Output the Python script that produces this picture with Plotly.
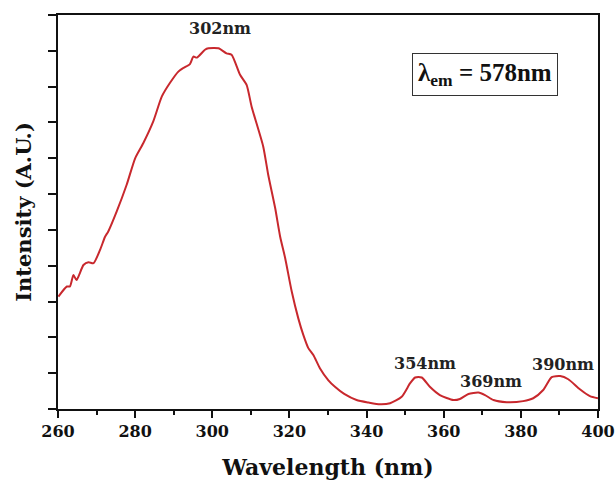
import plotly.graph_objects as go

wavelength = [260.1, 262.3, 263.1, 264.0, 264.8, 266.6, 267.9, 269.2, 270.9, 272.2, 273.0,
              275.2, 277.8, 280.0, 282.1, 284.7, 286.9, 289.0, 291.2, 292.5, 294.2, 295.1,
              296.0, 298.1, 299.0, 301.6, 303.7, 305.0, 307.2, 308.9, 310.2, 313.2, 314.5,
              316.3, 317.6, 318.9, 320.6, 322.3, 323.6, 324.9, 326.2, 327.9, 330.1, 331.8,
              334.2, 337.4, 340.5, 343.5, 346.1, 349.1, 351.3, 352.6, 354.3, 356.4, 359.0,
              362.5, 364.2, 366.4, 369.0, 370.7, 372.9, 376.3, 380.6, 383.2, 385.8, 388.0,
              390.2, 392.3, 395.3, 397.9, 400.0]
intensity = [3.14, 3.42, 3.42, 3.74, 3.60, 4.02, 4.10, 4.07, 4.44, 4.81, 4.95,
             5.51, 6.26, 7.00, 7.42, 8.03, 8.72, 9.10, 9.42, 9.52, 9.63, 9.84,
             9.81, 10.03, 10.07, 10.07, 9.93, 9.89, 9.33, 9.05, 8.44, 7.33, 6.54,
             5.61, 4.81, 4.21, 3.28, 2.53, 2.07, 1.70, 1.51, 1.14, 0.80, 0.62,
             0.42, 0.25, 0.18, 0.13, 0.16, 0.34, 0.72, 0.88, 0.88, 0.62, 0.39,
             0.25, 0.28, 0.42, 0.46, 0.39, 0.25, 0.19, 0.22, 0.30, 0.53, 0.89,
             0.92, 0.83, 0.55, 0.36, 0.30]

peak_x = [302, 355.2, 372.3, 390.9]
peak_y = [10.62, 1.28, 0.76, 1.25]
peak_labels = ["302nm", "354nm", "369nm", "390nm"]

x_ticks = [260, 280, 300, 320, 340, 360, 380, 400]

SERIF = "DejaVu Serif"
fig = go.Figure()
fig.add_trace(go.Scatter(x=wavelength, y=intensity, mode="lines",
                         line=dict(color="#c8282d", width=2), line_shape="spline",
                         line_smoothing=0.6,
                         showlegend=False, hoverinfo="skip"))

for px, py, t in zip(peak_x, peak_y, peak_labels):
    fig.add_annotation(x=px, y=py, text="<b>" + t + "</b>", showarrow=False,
                       font=dict(family=SERIF, size=16, color="#222"))

fig.add_annotation(x=370.8, y=9.33, text="<b>λ<sub>em</sub> = 578nm</b>", showarrow=False,
                   font=dict(family="Liberation Serif", size=25, color="#111"),
                   bordercolor="#333", borderwidth=1, borderpad=5, bgcolor="white")

fig.update_layout(
    width=616, height=484,
    margin=dict(l=58, r=18, t=15, b=75),
    paper_bgcolor="white", plot_bgcolor="white",
    xaxis=dict(range=[260, 400], tickvals=x_ticks, ticktext=["<b>%d</b>" % v for v in x_ticks],
               ticks="outside", ticklen=7, tickwidth=2, tickcolor="#111",
               minor=dict(dtick=10, tick0=270, ticks="outside", ticklen=4, tickwidth=2, tickcolor="#111"),
               showline=True, linecolor="#111", linewidth=2, mirror=True,
               showgrid=False, zeroline=False, automargin=False,
               tickfont=dict(family=SERIF, size=16, color="#111"),
               title=dict(text="<b>Wavelength (nm)</b>", font=dict(family=SERIF, size=22, color="#111"),
                          standoff=19)),
    yaxis=dict(range=[0, 11], dtick=1, tick0=0, showticklabels=False,
               ticks="outside", ticklen=8, tickwidth=2, tickcolor="#111",
               showline=True, linecolor="#111", linewidth=2, mirror=True,
               showgrid=False, zeroline=False, automargin=False,
               title=dict(text="<b>Intensity (A.U.)</b>", font=dict(family=SERIF, size=21, color="#111"),
                          standoff=11)),
)
fig.write_html("out.html", config={"displayModeBar": False},
               post_script="document.body.style.margin='0';")
